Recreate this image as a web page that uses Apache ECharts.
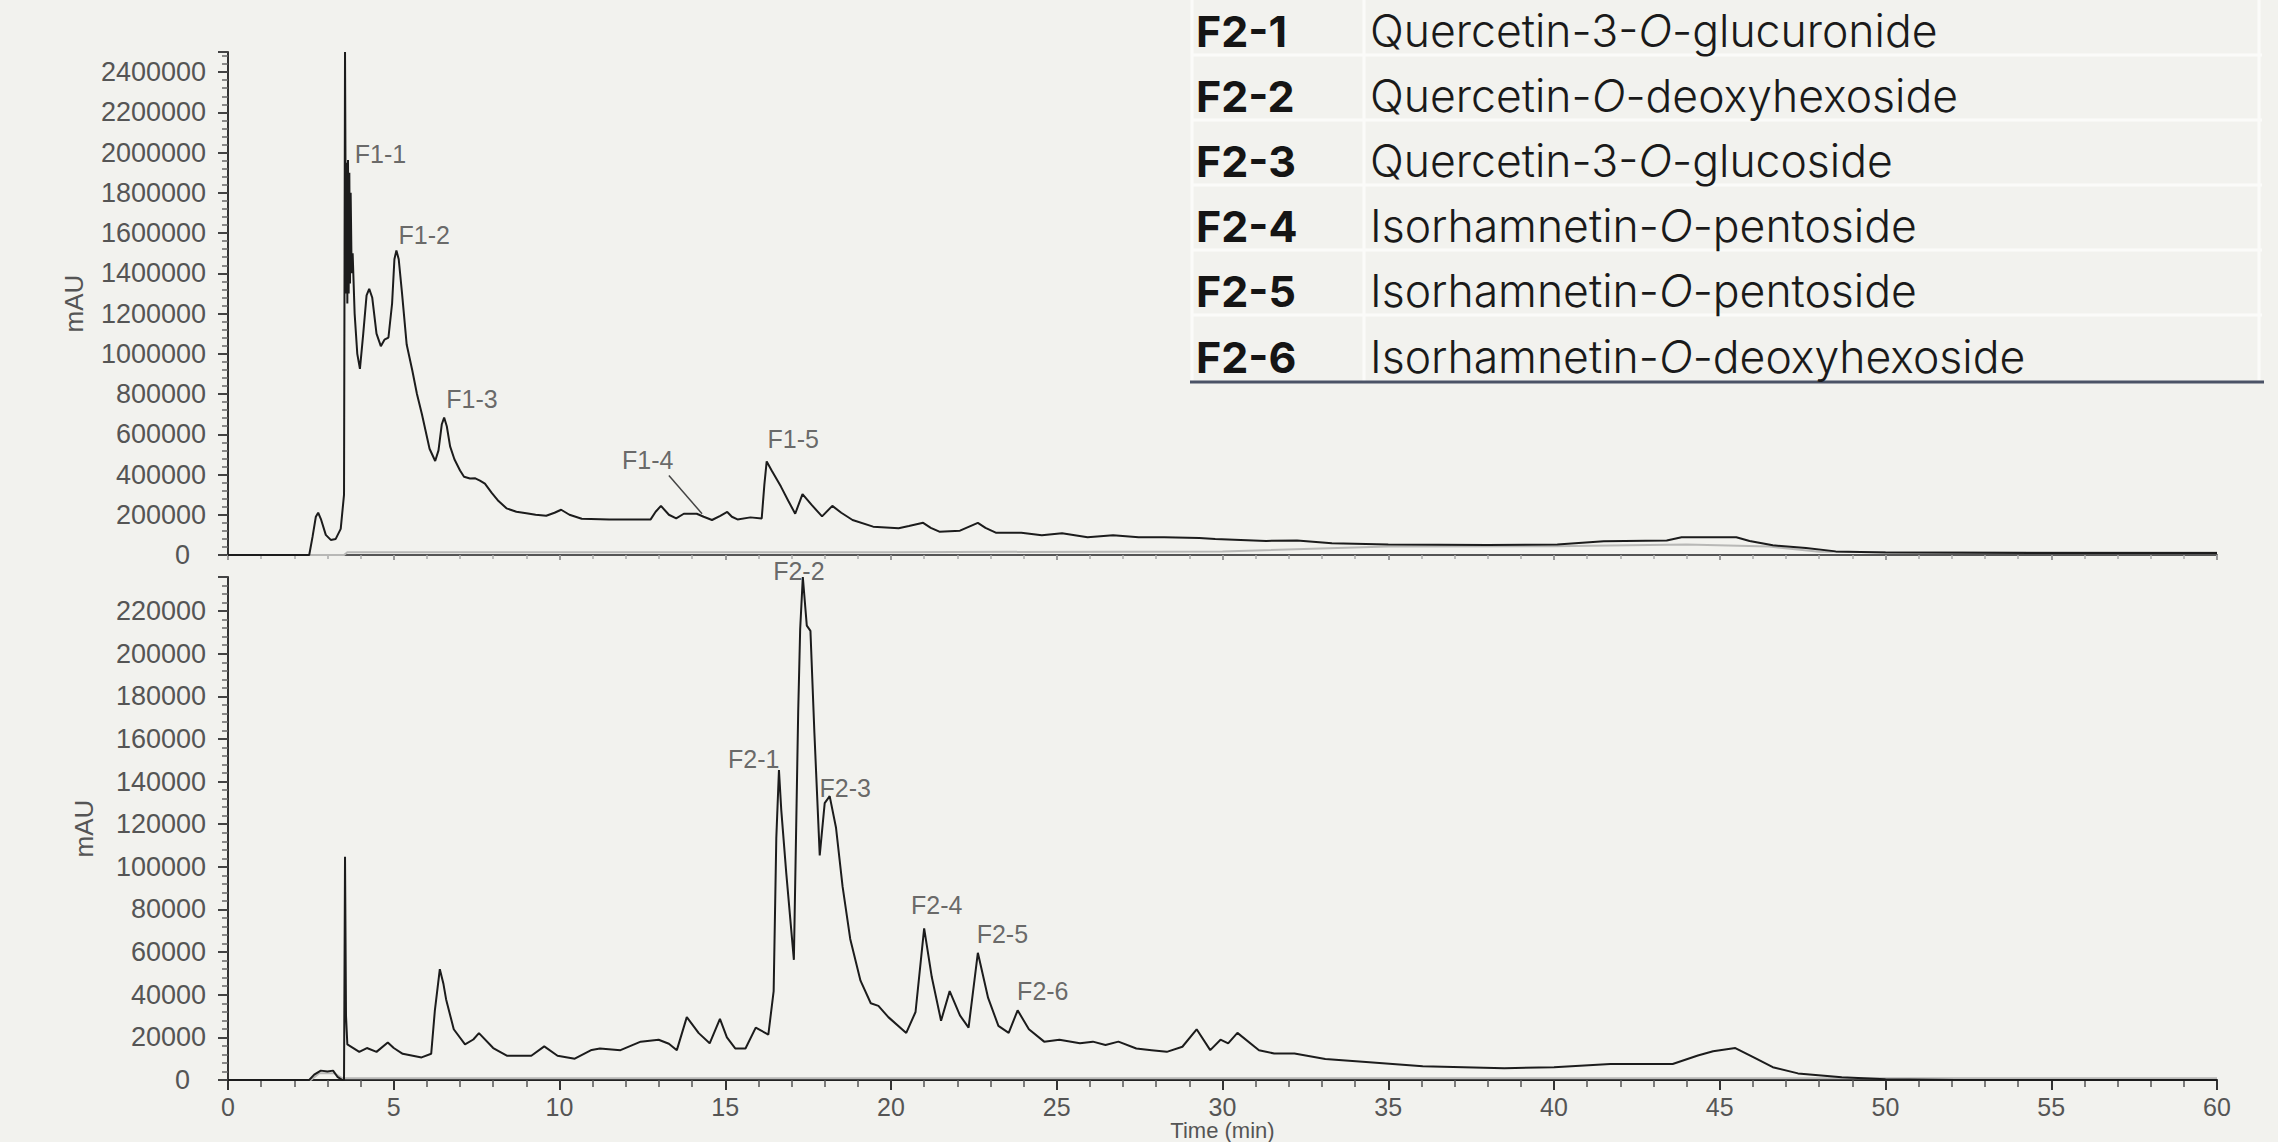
<!DOCTYPE html>
<html><head><meta charset="utf-8">
<script src="https://cdn.jsdelivr.net/npm/echarts@6/dist/echarts.min.js"></script>
<style>html,body{margin:0;padding:0;background:#f2f2ee;}#chart{width:2278px;height:1142px;}</style>
</head><body><div id="chart"></div>
<script>
// ---------- DATA ----------
// Fraction F1 chromatogram: [time (min), signal (mAU)]
const f1Trace = [
 [0,0],[2.45,0],[2.55,90000],[2.65,190000],[2.72,210000],[2.8,180000],[2.95,100000],[3.1,75000],[3.25,80000],[3.4,130000],
 [3.5,300000],[3.53,2500000],[3.56,1300000],[3.58,1950000],[3.6,1250000],[3.62,1963000],[3.64,1300000],[3.66,1900000],[3.68,1350000],[3.7,1800000],
 [3.73,1400000],[3.76,1500000],[3.82,1200000],[3.9,1000000],[3.98,925000],[4.08,1100000],[4.18,1290000],[4.26,1323000],[4.35,1280000],[4.48,1100000],
 [4.61,1038000],[4.72,1070000],[4.84,1081000],[4.95,1250000],[5.02,1470000],[5.08,1514000],[5.15,1470000],[5.25,1300000],[5.39,1046000],[5.56,917000],
 [5.7,800000],[5.85,700000],[6.08,528000],[6.25,467000],[6.35,520000],[6.45,650000],[6.52,683000],[6.6,640000],[6.7,540000],[6.83,476000],
 [7.0,420000],[7.12,389000],[7.3,380000],[7.46,381000],[7.6,370000],[7.75,355000],[7.95,310000],[8.16,268000],[8.4,232000],[8.7,215000],
 [9.0,208000],[9.28,200000],[9.6,195000],[9.85,210000],[10.05,225000],[10.3,200000],[10.67,180000],[11.5,177000],[12.75,177000],[12.9,215000],
 [13.06,244000],[13.3,200000],[13.52,182000],[13.75,205000],[14.14,205000],[14.35,190000],[14.6,174000],[14.85,195000],[15.06,214000],[15.2,190000],
 [15.37,177000],[15.76,187000],[16.1,182000],[16.18,350000],[16.25,465000],[16.4,420000],[16.68,340000],[16.9,270000],[17.11,205000],[17.33,303000],
 [17.6,250000],[17.92,192000],[18.23,244000],[18.5,210000],[18.84,174000],[19.46,141000],[20.23,133000],[20.54,144000],[20.97,160000],[21.2,135000],
 [21.46,116000],[22.08,121000],[22.62,160000],[22.85,135000],[23.16,111000],[23.93,111000],[24.55,98000],[25.16,108000],[25.93,88000],[26.7,98000],
 [27.47,88000],[28.24,88000],[29.3,85000],[29.78,80000],[31.32,70000],[32.25,72000],[33.3,58000],[35,52000],[38,50000],[40.1,52000],
 [41.5,68000],[43.4,72000],[43.85,88000],[45.5,88000],[45.9,70000],[46.6,48000],[47.6,35000],[48.5,18000],[50,12000],[55,10000],[60,10000]
];
// Fraction F1 secondary (grey) trace
const f1Blank = [[0,0],[3.5,0],[3.6,14000],[20,14000],[30,18000],[35,42000],[40,44000],[44,52000],[46.5,42000],[48,16000],[60,12000]];

// Fraction F2 chromatogram: [time (min), signal (mAU)]
const f2Trace = [
 [0,0],[2.45,0],[2.6,2500],[2.8,4400],[3.0,4000],[3.17,4400],[3.3,1500],[3.45,0],[3.5,0],[3.53,104700],
 [3.56,30000],[3.6,16700],[3.96,13200],[4.19,15000],[4.48,13200],[4.82,17600],[5.0,15000],[5.27,12300],[5.84,10600],[6.13,12300],
 [6.24,32600],[6.39,52000],[6.5,45000],[6.58,37800],[6.81,23800],[7.15,16700],[7.4,19000],[7.57,22000],[8.0,15000],[8.41,11400],
 [9.15,11400],[9.54,15800],[9.94,11400],[10.46,10000],[10.97,14100],[11.22,14800],[11.84,14000],[12.45,18000],[12.99,18900],[13.3,17000],
 [13.54,14000],[13.84,29500],[14.2,22000],[14.53,17200],[14.84,28700],[15.05,20000],[15.3,14800],[15.61,14800],[15.92,24600],[16.3,21300],
 [16.46,41700],[16.54,113500],[16.62,145400],[16.69,126600],[16.84,97200],[17.07,56400],[17.2,172400],[17.26,211500],[17.34,236000],[17.46,213200],
 [17.57,210700],[17.69,162600],[17.85,105400],[18.0,129900],[18.15,133200],[18.34,118500],[18.54,90700],[18.77,66200],[19.08,46600],[19.39,36000],
 [19.62,34800],[19.92,29500],[20.46,22100],[20.74,31900],[21.0,71100],[21.23,48300],[21.51,27800],[21.77,41700],[22.08,30300],[22.34,24600],
 [22.62,59700],[22.93,38500],[23.24,25400],[23.55,22100],[23.82,32700],[24.16,23800],[24.62,18000],[25.08,18900],[25.7,17200],[26.09,18000],
 [26.47,16400],[26.86,18000],[27.4,14800],[27.86,14000],[28.32,13200],[28.79,15600],[29.22,23800],[29.63,14000],[29.94,18900],[30.17,17200],
 [30.45,22100],[31.1,14000],[31.56,12400],[32.17,12400],[33.1,9900],[34.33,8500],[36.04,6500],[38.5,5500],[40,6000],[41.7,7500],
 [43.58,7500],[44.34,11500],[44.8,13500],[45.47,15000],[46.04,10500],[46.6,6000],[47.36,3100],[48.68,1250],[50,300],[52.1,0],[60,0]
];
// Fraction F2 secondary (grey) trace
const f2Blank = [[0,0],[2.5,0],[2.75,3200],[3.2,3200],[3.45,800],[60,800]];

// Peak annotations: label name and label centre [time, signal]
const f1PeakNames = ['F1-1','F1-2','F1-3','F1-4','F1-5'];
const f1PeakPos = [[4.6,1995000],[5.92,1590000],[7.36,773000],[12.66,470000],[17.05,578000]];
const f1LeaderLine = [[13.3,395000],[14.3,205000]];
const f2PeakNames = ['F2-1','F2-2','F2-3','F2-4','F2-5','F2-6'];
const f2PeakPos = [[15.86,150700],[17.22,239000],[18.62,137000],[21.38,82200],[23.36,68500],[24.58,41800]];

// Axis ranges
const timeRange = [0, 60], timeStep = 5;
const f1Range = [0, 2500000], f1Step = 200000;
const f2Range = [0, 236000], f2Step = 20000;

// Compound table
const tableCodes = ['F2-1','F2-2','F2-3','F2-4','F2-5','F2-6'];
const tableNames = [
 'Quercetin-3-{i|O}-glucuronide',
 'Quercetin-{i|O}-deoxyhexoside',
 'Quercetin-3-{i|O}-glucoside',
 'Isorhamnetin-{i|O}-pentoside',
 'Isorhamnetin-{i|O}-pentoside',
 'Isorhamnetin-{i|O}-deoxyhexoside'
];

// ---------- CHART ----------
const AX_FONT = "'Liberation Sans', Arial, sans-serif";
const TAB_FONT = "Inter, 'Noto Sans', sans-serif";
const chart = echarts.init(document.getElementById('chart'), null, {renderer:'svg', width:2278, height:1142});

function yAxisCfg(gridIndex, range, step, nameGap) {
  return {
    type:'value', gridIndex, min:range[0], max:range[1], interval:step,
    name:'mAU', nameLocation:'middle', nameGap, nameRotate:90,
    nameTextStyle:{fontFamily:AX_FONT, fontSize:26, color:'#555'},
    axisLine:{show:true, lineStyle:{color:'#333', width:2}},
    axisTick:{show:true, length:10, lineStyle:{color:'#444', width:2}},
    minorTick:{show:true, splitNumber:5, length:6, lineStyle:{color:'#666', width:1.5}},
    splitLine:{show:false},
    axisLabel:{showMaxLabel:false, margin:22, fontFamily:AX_FONT, fontSize:27, color:'#555',
      formatter: v => v === 0 ? '{z|0}' : String(v),
      rich:{z:{fontFamily:AX_FONT, fontSize:27, color:'#555', padding:[0,16,0,0]}}}
  };
}
function xAxisCfg(gridIndex, showLabels) {
  return {
    type:'value', gridIndex, min:timeRange[0], max:timeRange[1], interval:timeStep,
    name: showLabels ? 'Time (min)' : '', nameLocation:'middle', nameGap:36,
    nameTextStyle:{fontFamily:AX_FONT, fontSize:22, color:'#555'},
    axisLine:{show:true, onZero:false, lineStyle:{color: showLabels ? '#222' : '#555', width:2}},
    axisTick:{show:true, length: showLabels ? 10 : 5, lineStyle:{color: showLabels ? '#333' : '#999', width:2}},
    minorTick:{show:true, splitNumber:5, length: showLabels ? 7 : 4, lineStyle:{color: showLabels ? '#555' : '#aaa', width:1.5}},
    splitLine:{show:false},
    axisLabel:{show:showLabels, margin:14, fontFamily:AX_FONT, fontSize:25, color:'#555'}
  };
}
function peakLabels(xi, yi, names, pos) {
  return {
    type:'scatter', xAxisIndex:xi, yAxisIndex:yi, symbolSize:1, clip:false, silent:true,
    itemStyle:{color:'rgba(0,0,0,0)'},
    label:{show:true, position:'inside', formatter:'{b}', fontFamily:AX_FONT, fontSize:25, color:'#444'},
    data: names.map((n,i) => ({name:n, value:pos[i]}))
  };
}

const graphics = [];
const tabLeft = 1191, tabRight = 2262, sepX = 1364, rowH = 65.1, firstCenter = 31;
const sepColor = '#fbfbf9';
for (let i = 0; i < 5; i++) {
  const y = Math.round(firstCenter + rowH * i + 24);
  graphics.push({type:'line', shape:{x1:tabLeft, y1:y, x2:tabRight, y2:y}, style:{stroke:sepColor, lineWidth:3}});
}
[tabLeft + 1, sepX, tabRight - 3].forEach(x => graphics.push({type:'line', shape:{x1:x, y1:0, x2:x, y2:381}, style:{stroke:sepColor, lineWidth:3}}));
graphics.push({type:'line', shape:{x1:tabLeft - 1, y1:382, x2:tabRight + 2, y2:382}, style:{stroke:'#4b5366', lineWidth:3}});
tableCodes.forEach((c, i) => {
  const y = firstCenter + rowH * i;
  graphics.push({type:'text', x:1196, y, style:{text:c, fontFamily:TAB_FONT, fontWeight:'bold', fontSize:43, fill:'#151515', verticalAlign:'middle'}});
  graphics.push({type:'text', x:1370, y, style:{text:tableNames[i], fontFamily:TAB_FONT, fontWeight:300, fontSize:44.5, fill:'#1a1a1a', verticalAlign:'middle',
    rich:{i:{fontStyle:'italic', fontFamily:TAB_FONT, fontWeight:300, fontSize:44.5, fill:'#1a1a1a'}}}});
});

const option = {
  animation:false,
  backgroundColor:'#f2f2ee',
  grid:[
    {left:228, right:61, top:52, height:503, outerBoundsMode:'none', containLabel:false},
    {left:228, right:61, top:577, height:503, outerBoundsMode:'none', containLabel:false}
  ],
  xAxis:[xAxisCfg(0,false), xAxisCfg(1,true)],
  yAxis:[yAxisCfg(0,f1Range,f1Step,141), yAxisCfg(1,f2Range,f2Step,131)],
  series:[
    {type:'line', xAxisIndex:0, yAxisIndex:0, data:f1Blank, showSymbol:false, silent:true, lineStyle:{color:'#b8b8b6', width:2}},
    {type:'line', xAxisIndex:0, yAxisIndex:0, data:f1Trace, showSymbol:false, silent:true, lineStyle:{color:'#1c1c1c', width:2}},
    {type:'line', xAxisIndex:0, yAxisIndex:0, data:f1LeaderLine, showSymbol:false, silent:true, lineStyle:{color:'#444', width:1.5}},
    {type:'line', xAxisIndex:1, yAxisIndex:1, data:f2Blank, showSymbol:false, silent:true, lineStyle:{color:'#b8b8b6', width:2}},
    {type:'line', xAxisIndex:1, yAxisIndex:1, data:f2Trace, showSymbol:false, silent:true, lineStyle:{color:'#1c1c1c', width:2}},
    peakLabels(0,0,f1PeakNames,f1PeakPos),
    peakLabels(1,1,f2PeakNames,f2PeakPos)
  ],
  graphic: graphics
};
chart.setOption(option);
</script></body></html>
